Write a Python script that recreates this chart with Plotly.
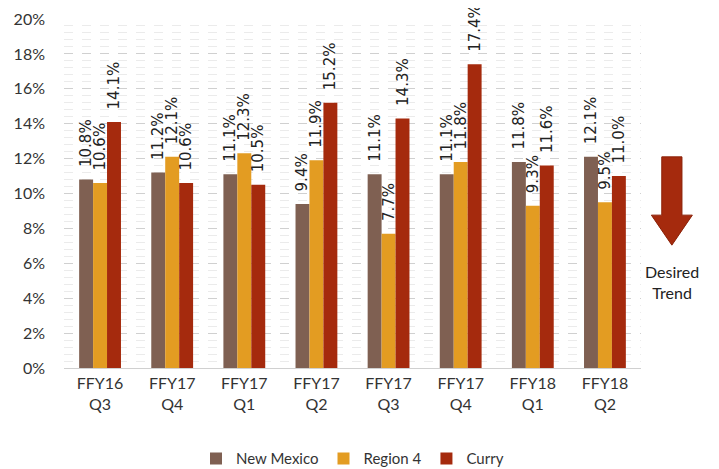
import plotly.graph_objects as go

categories = ["FFY16<br>Q3", "FFY17<br>Q4", "FFY17<br>Q1", "FFY17<br>Q2",
              "FFY17<br>Q3", "FFY17<br>Q4", "FFY18<br>Q1", "FFY18<br>Q2"]
new_mexico = [10.8, 11.2, 11.1, 9.4, 11.1, 11.1, 11.8, 12.1]
region4 = [10.6, 12.1, 12.3, 11.9, 7.7, 11.8, 9.3, 9.5]
curry = [14.1, 10.6, 10.5, 15.2, 14.3, 17.4, 11.6, 11.0]
y_ticks = [0, 2, 4, 6, 8, 10, 12, 14, 16, 18, 20]

series = [("New Mexico", new_mexico, "#7F6052"),
          ("Region 4", region4, "#E39C22"),
          ("Curry", curry, "#A52A0D")]

x_idx = list(range(len(categories)))
fig = go.Figure()
for name, vals, color in series:
    fig.add_trace(go.Bar(
        name=name, x=x_idx, y=vals, marker_color=color,
        marker_line_width=0,
        text=[f"\u00a0\u00a0{v:.1f}%" for v in vals], textposition="outside",
        textangle=-90, cliponaxis=False, constraintext="none",
        textfont=dict(family="DejaVu Sans", size=15, color="#222222"),
    ))

fig.update_layout(
    width=711, height=461,
    margin=dict(l=56, r=78, t=11, b=101, autoexpand=False),
    paper_bgcolor="white", plot_bgcolor="white",
    barmode="group", bargap=0.42, bargroupgap=0,
    font=dict(family="Lato", size=15, color="#333333"),
    legend=dict(orientation="h", x=0.5, xanchor="center", y=-0.213, yanchor="top",
                font=dict(family="Lato", size=15, color="#333333"),
                traceorder="normal"),
    showlegend=True,
)
fig.update_xaxes(tickmode="array", tickvals=x_idx, ticktext=categories,
                 range=[-0.5, 7.5], showline=False, ticks="", automargin=False,
                 ticklabelstandoff=4,
                 tickfont=dict(family="Lato", size=16, color="#333333"))
fig.update_yaxes(range=[0, 20], tickmode="array", tickvals=y_ticks,
                 ticktext=[f"{t}%" for t in y_ticks], automargin=False,
                 showgrid=True, gridcolor="#D0D0D0", griddash="dash", gridwidth=1,
                 minor=dict(dtick=0.4, showgrid=True, gridcolor="#EBEBEB", gridwidth=1),
                 zeroline=True, zerolinecolor="#D0D0D0", zerolinewidth=1,
                 tickfont=dict(family="Lato", size=16, color="#333333"),
                 ticklabelstandoff=18)

# Desired trend arrow
fig.add_shape(type="path", xref="paper", yref="paper",
              path="M 1.036 0.605 L 1.071 0.605 L 1.071 0.438 L 1.089 0.438 L 1.0535 0.352 L 1.018 0.438 L 1.036 0.438 Z",
              fillcolor="#A52A0D", line=dict(color="#8B2208", width=1))
fig.add_annotation(xref="paper", yref="paper", x=1.0535, y=0.31,
                   xanchor="center", yanchor="top",
                   text="Desired<br>Trend", showarrow=False,
                   font=dict(family="Lato", size=16, color="#222222"), align="center")

fig.write_html("out.html")
